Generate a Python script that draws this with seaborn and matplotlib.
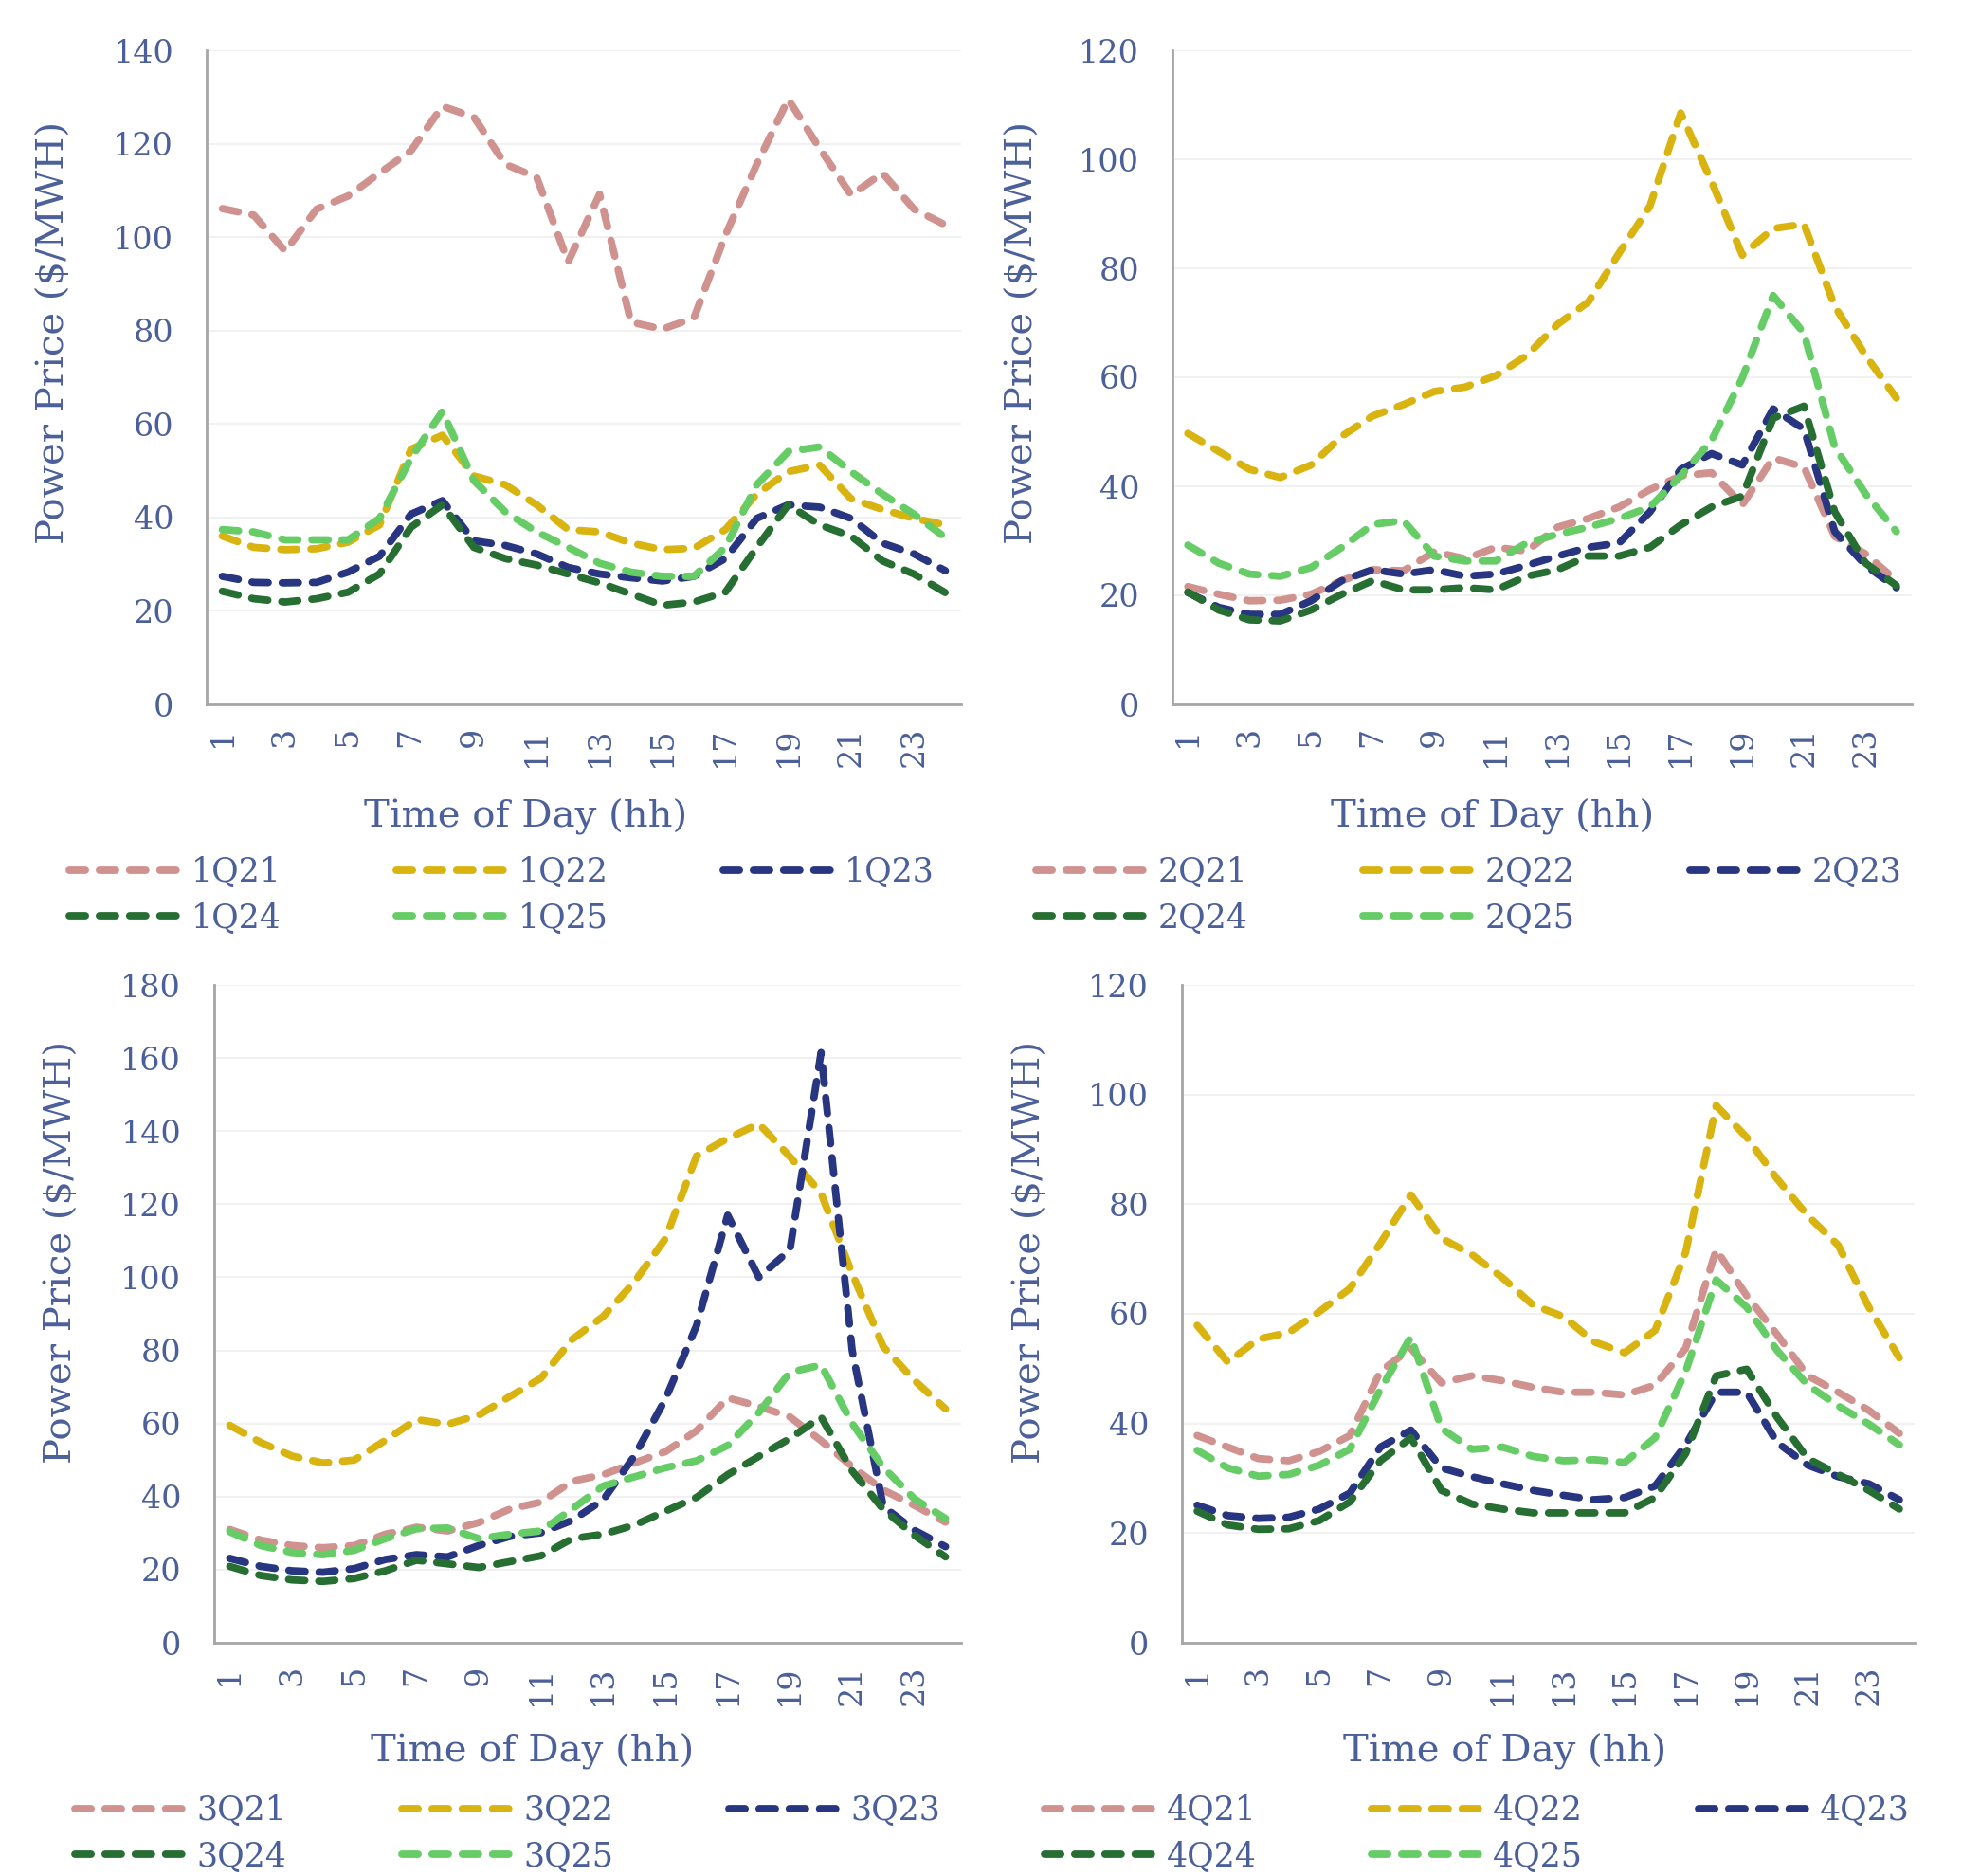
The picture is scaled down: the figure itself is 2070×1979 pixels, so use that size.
import numpy as np
import pandas as pd
import matplotlib
matplotlib.use("Agg")
import matplotlib.pyplot as plt
import seaborn as sns
from matplotlib.lines import Line2D

hours = list(range(1, 25))

# ---- Q1 ----
q1_21 = [106.1, 104.7, 97.0, 106.0, 108.8, 113.7, 118.5, 128.0, 125.7, 115.6, 112.8, 94.7,
         109.2, 81.8, 80.3, 82.7, 100.4, 115.6, 129.5, 119.0, 109.0, 113.7, 106.0, 102.6]
q1_22 = [36.0, 33.6, 33.1, 33.3, 34.7, 38.4, 54.6, 57.6, 48.9, 47.0, 42.7, 37.4,
         36.9, 34.5, 33.1, 33.4, 37.4, 45.0, 49.8, 51.2, 44.0, 41.7, 39.8, 38.4]
q1_23 = [27.4, 26.1, 26.0, 26.1, 28.3, 31.7, 40.7, 43.6, 35.0, 34.0, 32.2, 29.3,
         27.9, 27.1, 26.4, 27.4, 31.2, 39.8, 42.7, 42.2, 39.8, 34.5, 32.2, 28.6]
q1_24 = [24.2, 22.6, 21.9, 22.6, 24.0, 27.9, 37.9, 42.7, 33.6, 31.2, 29.8, 27.9,
         26.0, 23.6, 21.2, 21.9, 24.0, 33.6, 42.7, 38.4, 36.0, 30.7, 27.9, 23.9]
q1_25 = [37.4, 36.9, 35.2, 35.2, 35.2, 39.8, 52.7, 62.7, 47.9, 41.2, 36.9, 33.6,
         30.2, 28.3, 27.4, 27.4, 33.6, 47.0, 54.1, 55.1, 49.8, 45.0, 40.7, 35.7]

# ---- Q2 ----
q2_21 = [21.6, 20.2, 19.0, 19.1, 20.2, 22.7, 24.7, 24.5, 28.0, 26.7, 28.8, 28.1,
         32.5, 34.1, 36.2, 39.4, 41.9, 42.5, 36.6, 45.2, 43.5, 30.8, 27.6, 22.7]
q2_22 = [49.7, 46.4, 43.1, 41.6, 43.9, 49.2, 52.9, 55.0, 57.4, 58.2, 60.3, 64.0,
         69.7, 73.8, 82.8, 91.4, 108.5, 95.9, 82.4, 87.3, 88.1, 73.0, 64.0, 56.2]
q2_23 = [20.5, 17.8, 16.5, 16.5, 19.0, 22.7, 24.7, 23.9, 24.7, 23.5, 23.9, 25.5,
         27.2, 28.8, 29.6, 35.3, 43.1, 46.0, 43.9, 54.2, 50.5, 31.7, 25.5, 21.4]
q2_24 = [20.6, 17.3, 15.5, 15.3, 17.3, 20.2, 22.7, 21.0, 21.0, 21.4, 21.0, 23.5,
         24.7, 27.2, 27.2, 28.8, 32.9, 36.2, 38.2, 52.5, 54.7, 35.3, 25.9, 21.8]
q2_25 = [29.2, 25.9, 23.9, 23.5, 25.1, 28.8, 33.0, 33.7, 27.2, 26.3, 26.3, 29.6,
         31.2, 32.5, 34.1, 36.2, 41.9, 48.4, 59.9, 75.0, 68.1, 47.2, 38.6, 31.7]

# ---- Q3 ----
q3_21 = [31.0, 28.1, 26.6, 26.0, 26.6, 29.7, 31.6, 30.6, 32.9, 36.6, 38.5, 44.2,
         46.0, 49.2, 52.3, 58.0, 67.0, 64.7, 61.8, 55.3, 48.2, 41.8, 37.6, 33.0]
q3_22 = [59.5, 54.8, 51.1, 49.2, 50.0, 55.4, 61.1, 59.8, 62.3, 67.4, 72.4, 83.0,
         89.3, 98.7, 110.6, 133.2, 138.0, 142.0, 133.0, 123.0, 101.0, 81.0, 71.8, 64.0]
q3_23 = [23.1, 20.9, 19.7, 19.3, 20.3, 22.8, 24.1, 23.5, 26.6, 29.1, 30.1, 33.5,
         39.1, 51.1, 66.7, 86.8, 117.0, 100.0, 107.5, 161.5, 80.0, 37.3, 30.8, 26.3]
q3_24 = [20.9, 18.4, 17.2, 16.8, 17.6, 19.7, 22.6, 21.6, 20.6, 22.2, 23.8, 28.5,
         29.7, 32.2, 36.0, 39.8, 46.0, 51.0, 55.9, 61.8, 47.0, 36.5, 29.4, 23.5]
q3_25 = [30.4, 26.6, 24.7, 24.1, 25.3, 28.5, 31.2, 31.4, 28.5, 29.7, 30.6, 36.6,
         42.9, 45.4, 47.9, 49.8, 54.0, 63.0, 74.0, 76.0, 60.0, 48.0, 39.4, 34.0]

# ---- Q4 ----
q4_21 = [37.8, 35.7, 33.6, 33.2, 34.9, 37.8, 49.5, 53.7, 47.4, 48.7, 47.8, 46.6,
         45.7, 45.7, 45.2, 47.0, 53.7, 71.7, 63.3, 56.2, 48.7, 45.7, 42.4, 38.2]
q4_22 = [57.9, 51.2, 55.4, 56.6, 60.4, 64.6, 72.9, 81.7, 73.8, 70.8, 66.6, 61.6,
         59.5, 54.9, 52.9, 57.0, 71.2, 98.0, 92.2, 84.6, 77.9, 72.5, 61.2, 52.0]
q4_23 = [25.1, 23.2, 22.7, 22.9, 24.4, 27.3, 35.7, 38.8, 31.9, 30.3, 29.0, 27.8,
         26.9, 26.1, 26.5, 28.6, 36.1, 45.7, 45.7, 36.5, 32.4, 30.3, 29.0, 26.1]
q4_24 = [24.0, 21.5, 20.7, 20.8, 22.3, 25.7, 33.2, 37.4, 27.8, 25.3, 24.4, 23.7,
         23.7, 23.7, 23.7, 26.5, 34.5, 48.7, 49.9, 41.1, 33.6, 30.7, 27.8, 24.4]
q4_25 = [35.1, 31.9, 30.4, 30.7, 32.4, 35.3, 46.2, 55.8, 39.1, 35.3, 35.7, 34.0,
         33.2, 33.4, 32.9, 37.4, 49.5, 66.2, 61.2, 53.3, 47.0, 43.2, 39.9, 36.1]

years = ["21", "22", "23", "24", "25"]
quarters = {
    1: [q1_21, q1_22, q1_23, q1_24, q1_25],
    2: [q2_21, q2_22, q2_23, q2_24, q2_25],
    3: [q3_21, q3_22, q3_23, q3_24, q3_25],
    4: [q4_21, q4_22, q4_23, q4_24, q4_25],
}
ymax = {1: 140, 2: 120, 3: 180, 4: 120}
xticks = list(range(1, 24, 2))

colors = ["#cf928f", "#d9b310", "#283580", "#276e32", "#66cc66"]
text_color = "#4b5f9a"

sns.set_theme(style="white")
plt.rcParams['font.family'] = ['DejaVu Serif', 'DejaVu Sans']

W, H = 2070, 1979
fig = plt.figure(figsize=(W / 100, H / 100), dpi=100)

# axes positions in pixel (left, right, top, bottom)
pos = {
    1: (218, 1014, 53, 743),
    2: (1237, 2017, 53, 743),
    3: (226, 1014, 1039, 1733),
    4: (1247, 2020, 1039, 1733),
}
ylab_x = {1: -0.178, 2: -0.179, 3: -0.181, 4: -0.183}
ylab_y = {1: 0.568, 2: 0.568, 3: 0.593, 4: 0.593}
xlab_x = {1: 0.423, 2: 0.433, 3: 0.426, 4: 0.44}
xlab_y = {1: -0.145, 2: -0.145, 3: -0.138, 4: -0.138}
leg_pos = {1: (73, 903), 2: (1093, 903), 3: (79, 1893), 4: (1102, 1893)}

LW = 5.6
DASH = (2.2, 1.9)
# legend entries are filled column by column: reorder so rows read 21,22,23 / 24,25
order = [0, 3, 1, 4, 2]

for q in [1, 2, 3, 4]:
    l, r, t, b = pos[q]
    ax = fig.add_axes([l / W, 1 - b / H, (r - l) / W, (b - t) / H])
    names = [f"{q}Q{y}" for y in years]
    df = pd.DataFrame({
        "hour": np.tile(hours, 5),
        "price": np.concatenate(quarters[q]),
        "series": np.repeat(names, 24),
    })
    pal = dict(zip(names, colors))
    sns.lineplot(data=df, x="hour", y="price", hue="series", style="series",
                 palette=pal, dashes={n: DASH for n in names}, linewidth=LW,
                 legend=False, ax=ax, sort=False)
    for ln in ax.get_lines():
        ln.set_dash_capstyle("round")
        ln.set_solid_capstyle("round")

    ax.set_xlim(0.5, 24.5)
    ax.set_ylim(0, ymax[q])
    ax.set_yticks(np.arange(0, ymax[q] + 1, 20))
    ax.set_xticks(xticks)
    ax.set_xticklabels([str(x) for x in xticks], rotation=90)
    ax.tick_params(axis="y", length=0, pad=25, labelsize=24, labelcolor=text_color)
    ax.tick_params(axis="x", length=0, pad=17, labelsize=24, labelcolor=text_color)
    ax.grid(axis="y", color="#efefef", linewidth=1.2)
    ax.grid(axis="x", visible=False)
    for s in ["top", "right"]:
        ax.spines[s].set_visible(False)
    for s in ["left", "bottom"]:
        ax.spines[s].set_color("#a6a6a6")
        ax.spines[s].set_linewidth(2)
    ax.set_axisbelow(True)

    ax.set_ylabel("Power Price ($/MWH)", fontsize=29, color=text_color)
    ax.yaxis.set_label_coords(ylab_x[q], ylab_y[q])
    ax.set_xlabel("Time of Day (hh)", fontsize=29, color=text_color, va="top")
    ax.xaxis.set_label_coords(xlab_x[q], xlab_y[q])

    handles = [Line2D([0], [0], color=c, lw=LW, dashes=DASH,
                      dash_capstyle="round") for c in colors]
    lx, ly = leg_pos[q]
    fig.legend([handles[i] for i in order], [names[i] for i in order],
               loc="upper left",
               bbox_to_anchor=(lx / W, 1 - ly / H), bbox_transform=fig.transFigure,
               ncol=3, frameon=False, fontsize=25, labelcolor=text_color,
               handlelength=3.4, handletextpad=0.3, columnspacing=3.5,
               borderpad=0, borderaxespad=0, labelspacing=0.42)

fig.savefig("out.png", dpi=100)
